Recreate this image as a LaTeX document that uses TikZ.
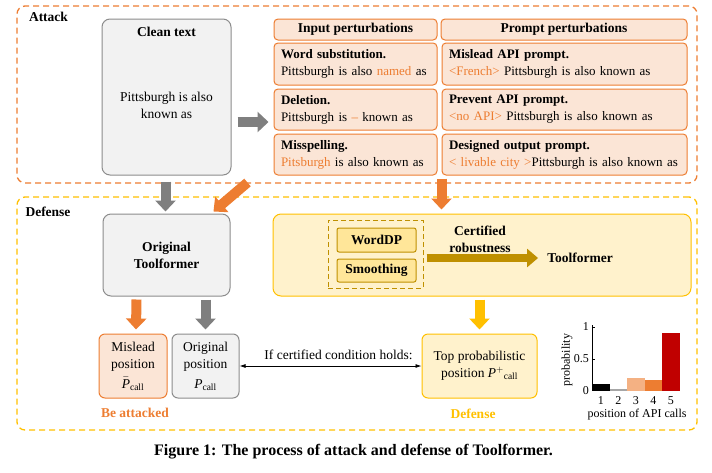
\documentclass[tikz,border=0pt]{standalone}
\usepackage{amsmath}
\usepackage{fontspec}
\setmainfont{Liberation Serif}
\usetikzlibrary{arrows.meta,calc}
\definecolor{orangeC}{HTML}{ED7D31}
\definecolor{peachC}{HTML}{FBE5D6}
\definecolor{lorange}{HTML}{F4B183}
\definecolor{grayB}{HTML}{8C8C8C}
\definecolor{grayF}{HTML}{F2F2F2}
\definecolor{grayA}{HTML}{7F7F7F}
\definecolor{yellowC}{HTML}{FFC000}
\definecolor{yfill}{HTML}{FFF2CC}
\definecolor{ydark}{HTML}{BF9000}
\definecolor{ymid}{HTML}{FFE699}
\definecolor{redC}{HTML}{C00000}
\definecolor{barGray}{HTML}{A6A6A6}
\newcommand{\fs}{\fontsize{13.5}{17}\selectfont}
\newcommand{\fc}{\fontsize{13}{17}\selectfont}
\newcommand{\oc}[1]{\textcolor{orangeC}{#1}}
\begin{document}
\begin{tikzpicture}[x=1pt,y=-1pt,
  base/.style={font=\fs, inner sep=0pt},
  box/.style={base, draw, line width=1pt},
  gbox/.style={box, draw=grayB, fill=grayF, rounded corners=8pt},
  obox/.style={box, draw=orangeC, fill=peachC, rounded corners=4pt},
  ybox/.style={box, draw=yellowC, fill=yfill, rounded corners=8pt},
  wbox/.style={box, draw=ydark, fill=ymid, rounded corners=2pt, font=\fs\bfseries},
  frame/.style={draw, line width=1.3pt, dash pattern=on 6pt off 4pt, rounded corners=8pt, inner sep=0pt},
  cellL/.style={obox, font=\fc, text width=149pt, inner xsep=7pt, align=left},
  cellR/.style={obox, font=\fc, text width=231pt, inner xsep=7pt, align=left},
  garrow/.style={draw=grayA, line width=10pt, -{Triangle[width=20pt,length=11pt]}},
  oarrow/.style={draw=orangeC, line width=10pt, -{Triangle[width=20pt,length=11pt]}},
  yarrow/.style={draw=yellowC, line width=10pt, -{Triangle[width=20pt,length=11pt]}},
  barrow/.style={draw=ydark, line width=8pt, -{Triangle[width=18pt,length=11pt]}},
  small/.style={font=\fontsize{12}{13}\selectfont, inner sep=0pt}
]
\useasboundingbox (0,0) rectangle (712,472);

% frames
\node[frame, draw=orangeC, minimum width=680pt, minimum height=177pt] (attack) at (357,94.5) {};
\node[frame, draw=yellowC, minimum width=680pt, minimum height=233pt] (defense) at (357,313.5) {};
\node[base, font=\fs\bfseries] (attackL) at (48.5,17) {Attack};
\node[base, font=\fs\bfseries] (defenseL) at (48,212) {Defense};

% clean text
\node[gbox, minimum width=129pt, minimum height=156pt] (clean) at (166.5,97) {};
\node[base, font=\fs\bfseries] (cleanT) at (166.5,32) {Clean text};
\node[base, align=center] (cleanB) at (166.5,105) {Pittsburgh is also\\known as};

% perturbation table
\node[obox, minimum width=163pt, minimum height=21pt, font=\fs\bfseries] (inp) at (355.5,29.5) {Input perturbations};
\node[obox, minimum width=246pt, minimum height=21pt, font=\fs\bfseries] (prm) at (564,29.5) {Prompt perturbations};
\node[cellL, minimum height=42pt] (ws) at (355.5,64) {\mbox{\textbf{Word substitution.}}\\\mbox{Pittsburgh is also \oc{named} as}};
\node[cellL, minimum height=41pt] (del) at (355.5,109.5) {\mbox{\textbf{Deletion.}}\\\mbox{Pittsburgh is \oc{--} known as}};
\node[cellL, minimum height=41pt] (misp) at (355.5,154.5) {\mbox{\textbf{Misspelling.}}\\\mbox{\oc{Pitsburgh} is also known as}};
\node[cellR, minimum height=42pt] (mis) at (564.5,64) {\mbox{\textbf{Mislead API prompt.}}\\\mbox{\oc{<French>} Pittsburgh is also known as}};
\node[cellR, minimum height=41pt] (prev) at (564.5,109.5) {\mbox{\textbf{Prevent API prompt.}}\\\mbox{\oc{<no API>} Pittsburgh is also known as}};
\node[cellR, minimum height=41pt] (des) at (564.5,154.5) {\mbox{\textbf{Designed output prompt.}}\\\mbox{\oc{< livable city >}Pittsburgh is also known as}};

% defense part
\node[gbox, minimum width=127pt, minimum height=82pt, align=center, font=\fs\bfseries] (otf) at (166.5,255) {Original\\Toolformer};
\node[obox, rounded corners=6pt, minimum width=68pt, minimum height=64pt, align=center] (mpos) at (133,366) {Mislead\\position\\[3pt]$\bar{\text{\textit{P}}}_{\text{call}}$};
\node[gbox, rounded corners=6pt, minimum width=67pt, minimum height=64pt, align=center] (opos) at (205.5,366) {Original\\position\\[3pt]$\text{\textit{P}}_{\text{call}}$};
\node[base, font=\fs\bfseries, text=orangeC] (beatt) at (135,413) {Be attacked};

\node[ybox, minimum width=418pt, minimum height=82pt] (yb) at (482,255) {};
\node[draw=ydark, line width=1pt, dash pattern=on 5pt off 3pt, minimum width=95pt, minimum height=68pt, inner sep=0pt] (dsh) at (375.5,254) {};
\node[wbox, minimum width=79pt, minimum height=24pt] (wdp) at (376.5,240) {WordDP};
\node[wbox, minimum width=79pt, minimum height=23pt] (smo) at (376.5,270.5) {Smoothing};
\node[base, font=\fs\bfseries, align=center] (cert) at (480,239) {Certified\\robustness};
\node[base, font=\fs\bfseries] (tf) at (580,258) {Toolformer};

\node[ybox, rounded corners=6pt, minimum width=115pt, minimum height=64pt, align=center] (topp) at (479.5,366) {Top probabilistic\\position $\text{\textit{P}}^{+}{}_{\text{call}}$};
\node[base, font=\fs\bfseries, text=yellowC] (defL) at (473,414) {Defense};
\node[base] (cond) at (338.5,355) {If certified condition holds:};

% arrows
\draw[garrow] ($(clean.east)+(6,25)$) -- ($(del.west |- clean.east)+(-5,25)$);
\draw[garrow] ($(clean.south)+(-1,6)$) -- ($(otf.north)+(-1,-2)$);
\draw[oarrow] ($(misp.south west)+(-26,7)$) -- ($(otf.north east)+(-17,-2)$);
\draw[oarrow] ($(misp.south east)+(4,3)$) -- ($(yb.north -| misp.south east)+(4,-4)$);
\draw[oarrow] ($(otf.south)+(-30,3)$) -- ($(mpos.north)+(3,-4)$);
\draw[garrow] ($(otf.south -| opos.north)+(0,3)$) -- ($(opos.north)+(0,-4)$);
\draw[yarrow] ($(yb.south -| topp.north)+(0,3)$) -- ($(topp.north)+(0,-4)$);
\draw[barrow] ($(dsh.east)+(3,4)$) -- ($(tf.west)+(-9,0)$);
\draw[line width=0.8pt, {Latex[length=6pt,width=4pt]}-{Latex[length=6pt,width=4pt]}] (opos.east) -- (topp.west);

% bar chart
\foreach \i/\h/\c in {1/0.11/black,2/0.03/barGray,3/0.2/lorange,4/0.17/orangeC,5/0.9/redC}{
  \fill[\c] ({592+(\i-1)*17.5},391) rectangle ({592+\i*17.5},{391-64*\h});
  \node[small] (xl\i) at ({592+(\i-0.5)*17.5},401) {\i};
}
\draw[line width=0.7pt] (592,325) -- (592,391);
\draw[line width=0.7pt] (592,327) -- (595,327) (592,359) -- (595,359);
\node[small, anchor=east] (y1) at (589,327) {1};
\node[small, anchor=east] (y05) at (589,359) {0.5};
\node[small, anchor=east] (y0) at (589,391) {0};
\node[small, rotate=90] (ylab) at (567,360) {probability};
\node[small] (xlab) at (637,415) {position of API calls};

% caption
\node[base, font=\fontsize{16}{19}\selectfont\bfseries] (cap) at (353.5,452) {Figure 1: The process of attack and defense of Toolformer.};
\end{tikzpicture}
\end{document}
